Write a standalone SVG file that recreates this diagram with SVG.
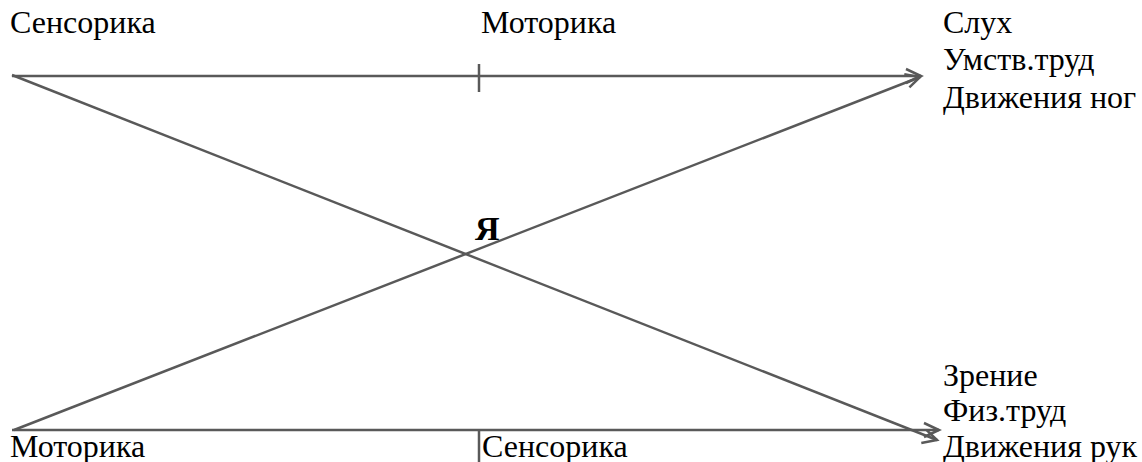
<svg xmlns="http://www.w3.org/2000/svg" width="1142" height="462" viewBox="0 0 1142 462">
<rect width="1142" height="462" fill="#fff"/>
<g id="connectors" stroke="#595959" stroke-width="2.5" fill="none">
<line x1="12" y1="76" x2="921" y2="76"/>
<path d="M906,69 L921,76 L906,83"/>
<line x1="479" y1="64" x2="479" y2="92"/>
<line x1="12" y1="430" x2="939" y2="430"/>
<path d="M924,423 L939,430 L924,437"/>
<line x1="479" y1="430" x2="479" y2="462"/>
<line x1="12" y1="75" x2="937" y2="440"/>
<path d="M926.4,429.9 L937,440 L921.3,442.9"/>
<line x1="14" y1="430" x2="920" y2="77"/>
<path d="M904.3,74.3 L920,77 L909.4,87.3"/>
</g>
<g id="top-left"><text font-family="Liberation Serif, serif" font-size="32" x="10" y="33">Сенсорика</text></g>
<g id="top-mid"><text font-family="Liberation Serif, serif" font-size="32" x="481" y="33">Моторика</text></g>
<g id="top-right">
<text font-family="Liberation Serif, serif" font-size="32" x="943" y="33">Слух</text>
<text font-family="Liberation Serif, serif" font-size="32" x="943" y="70">Умств.труд</text>
<text font-family="Liberation Serif, serif" font-size="32" x="943" y="108">Движения ног</text>
</g>
<g id="center"><text font-family="Liberation Serif, serif" font-size="34" font-weight="bold" x="475" y="240">Я</text></g>
<g id="bottom-right">
<text font-family="Liberation Serif, serif" font-size="32" x="943" y="386">Зрение</text>
<text font-family="Liberation Serif, serif" font-size="32" x="943" y="421">Физ.труд</text>
<text font-family="Liberation Serif, serif" font-size="32" x="943" y="457">Движения рук</text>
</g>
<g id="bottom-left"><text font-family="Liberation Serif, serif" font-size="32" x="10" y="457">Моторика</text></g>
<g id="bottom-mid"><text font-family="Liberation Serif, serif" font-size="32" x="482" y="457">Сенсорика</text></g>
</svg>
